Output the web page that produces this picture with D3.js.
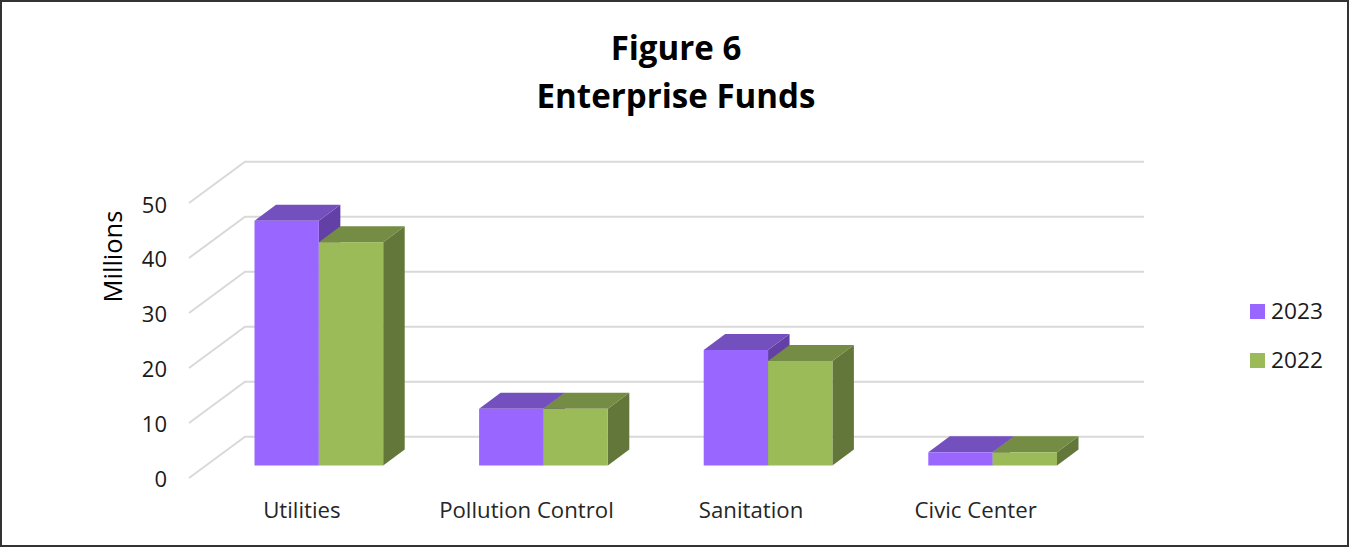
<!DOCTYPE html>
<html><head><meta charset="utf-8">
<script src="https://cdn.jsdelivr.net/npm/d3@7"></script>
<style>html,body{margin:0;padding:0;background:#fff}svg{display:block}text{font-family:"Open Sans",sans-serif}</style>
</head><body><svg id="c" width="1350" height="548"></svg>
<script>
const categories = ["Utilities","Pollution Control","Sanitation","Civic Center"];
const seriesNames = ["2023","2022"];
const values2023 = [44.5,10.3,21,2.4];
const values2022 = [40.6,10.3,19,2.4];
const yTicks = [0,10,20,30,40,50];
const titleLines = ["Figure 6","Enterprise Funds"];
const colors = {
  "2023":{front:"#9966ff",top:"#7450bf",side:"#6340a5"},
  "2022":{front:"#9bbb59",top:"#748c43",side:"#64773a"}
};
const svg = d3.select("#c");
svg.append("rect").attr("x",1).attr("y",1).attr("width",1347).attr("height",545)
  .attr("fill","#fff").attr("stroke","#333").attr("stroke-width",2);

titleLines.forEach((t,i)=>svg.append("text").attr("x",676).attr("y",60+i*47.5)
  .attr("text-anchor","middle").attr("font-size",33.1).attr("font-weight",700).attr("fill","#000").text(t));

const yBack = d3.scaleLinear().domain([0,60]).range([436.7,106.7]);
const barH = v => yBack(0)-yBack(v);
const floorFrontY = 478, floorFrontX = 189, wallX = 245, wallEnd = 1144;
const barFloorY = 465.5;
const depthX = 21.5, depthY = 16;

const grid = svg.append("g").attr("fill","none").attr("stroke","#d9d9d9").attr("stroke-width",2);
grid.selectAll("path").data(yTicks).join("path").attr("d",d=>{
  const p=d3.path(), yb=yBack(d), yf=floorFrontY-barH(d);
  p.moveTo(floorFrontX,yf); p.lineTo(wallX,yb); p.lineTo(wallEnd,yb); return p.toString();
});

const x0 = d3.scaleBand().domain(categories).range([254.5,1057]).paddingInner(0.427).paddingOuter(0);
const x1 = d3.scaleBand().domain(seriesNames).range([0,x0.bandwidth()]);
const seriesValues = {"2023":values2023,"2022":values2022};
seriesNames.forEach(s=>{
  const g = svg.append("g");
  const c = colors[s];
  categories.forEach((cat,i)=>{
    const l=x0(cat)+x1(s), w=x1.bandwidth(), r=l+w, b=barFloorY, t=b-barH(seriesValues[s][i]);
    const pts=a=>a.map(q=>q.join(",")).join(" ");
    g.append("polygon").attr("points",pts([[r,t],[r+depthX,t-depthY],[r+depthX,b-depthY],[r,b]])).attr("fill",c.side);
    g.append("polygon").attr("points",pts([[l,t],[l+depthX,t-depthY],[r+depthX,t-depthY],[r,t]])).attr("fill",c.top);
    g.append("rect").attr("x",l).attr("y",t).attr("width",w).attr("height",b-t).attr("fill",c.front);
  });
});

const yFront = d3.scaleLinear().domain([0,50]).range([479,205]);
const yAxis = svg.append("g").attr("transform","translate(167,0)")
  .call(d3.axisLeft(yFront).tickValues(yTicks).tickSize(0).tickPadding(0));
yAxis.select(".domain").remove();
yAxis.selectAll("text").attr("font-size",22).attr("fill","#1a1a1a").attr("font-family",'"Open Sans",sans-serif');

const xAxis = svg.append("g").attr("transform","translate(-17,502)")
  .call(d3.axisBottom(x0).tickSize(0).tickPadding(0));
xAxis.select(".domain").remove();
xAxis.selectAll("text").attr("font-size",22.2).attr("fill","#262626").attr("font-family",'"Open Sans",sans-serif');

svg.append("text").attr("transform","translate(115,256.5) rotate(-90)").attr("text-anchor","middle")
  .attr("dominant-baseline","middle").attr("font-size",25.5).attr("fill","#000").text("Millions");

const legend = d3.scaleBand().domain(seriesNames).range([287,385]);
seriesNames.forEach(s=>{
  const cy = legend(s)+legend.bandwidth()/2;
  svg.append("rect").attr("x",1250).attr("y",cy-7.5).attr("width",15).attr("height",15).attr("fill",colors[s].front);
  svg.append("text").attr("x",1271).attr("y",cy+1).attr("dominant-baseline","middle")
    .attr("font-size",22.7).attr("fill","#1a1a1a").text(s);
});
</script></body></html>
